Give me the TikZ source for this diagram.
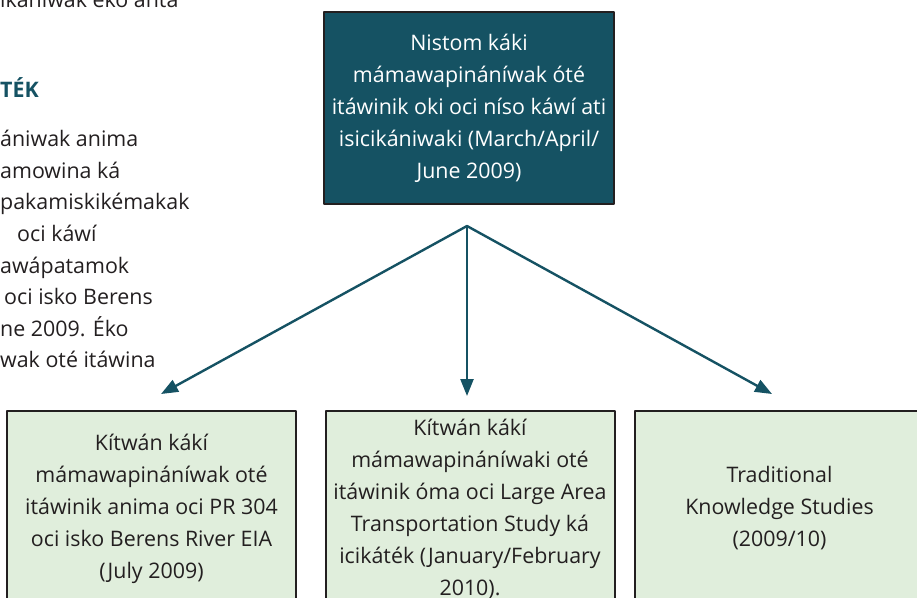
\documentclass[tikz,border=0pt]{standalone}
\usepackage{fontspec}
\setmainfont{Open Sans}
\usepackage{tikz}
\usetikzlibrary{arrows.meta}
\usetikzlibrary{positioning}
\definecolor{tealdark}{RGB}{21,82,99}
\definecolor{palegreen}{RGB}{224,238,220}
\definecolor{inkgrey}{RGB}{35,31,32}
\begin{document}
\begin{tikzpicture}[line cap=round,line join=round,>={Triangle[length=17pt,width=13pt]},x=1pt,y=-1pt,
  every node/.style={font=\fontsize{21.4}{32}\selectfont,text=inkgrey},
  leadbox/.style={draw=inkgrey,line width=2pt,fill=tealdark,text=white,minimum width=290pt,minimum height=192pt,align=center,inner sep=2pt},
  phasebox/.style={draw=inkgrey,line width=2pt,fill=palegreen,minimum width=289pt,minimum height=195pt,anchor=north,align=center,inner sep=2pt},
  flow/.style={->,draw=tealdark,line width=2.4pt}]
\useasboundingbox (0,0) rectangle (917,597);
\clip (0,0) rectangle (917,597);
% text beside the chart
\node[anchor=base west,inner sep=0pt] (lead) at (0,7) {ikániwak éko anta};
\node[anchor=base west,inner sep=0pt,text=tealdark,font=\fontsize{21.4}{26}\bfseries] (head) at (0,97) {TÉK};
\node[anchor=north west,inner sep=0pt,align=left,font=\fontsize{21.4}{31.6}\selectfont] (intro) at (0,130)
  {ániwak anima\\amowina ká\\pakamiskikémakak\\\hspace*{17pt}oci káwí\\awápatamok\\\hspace*{4pt}oci isko Berens\\ne 2009. Éko\\wak oté itáwina};
% chart
\node[leadbox] (study) at (469,108) {Nistom káki\\mámawapináníwak óté\\itáwinik oki oci níso káwí ati\\isicikániwaki (March/April/\\June 2009)};
\node[phasebox] (pr) at (151.5,410) {Kítwán kákí\\mámawapináníwak oté\\itáwinik anima oci PR 304\\oci isko Berens River EIA\\(July 2009)};
\node[phasebox] (lats) at (470,410) {Kítwán kákí\\mámawapináníwaki oté\\itáwinik óma oci Large Area\\Transportation Study ká\\icikáték (January/February\\2010).};
\node[phasebox] (tks) at (779.5,410) {Traditional\\Knowledge Studies\\(2009/10)};
\coordinate (split) at (467,226);
\coordinate (tipA) at (161,394);
\coordinate (tipB) at (467,396);
\coordinate (tipC) at (772,394);
\foreach \t in {tipA,tipB,tipC}
\draw[flow] (split) -- (\t);
\end{tikzpicture}
\end{document}
